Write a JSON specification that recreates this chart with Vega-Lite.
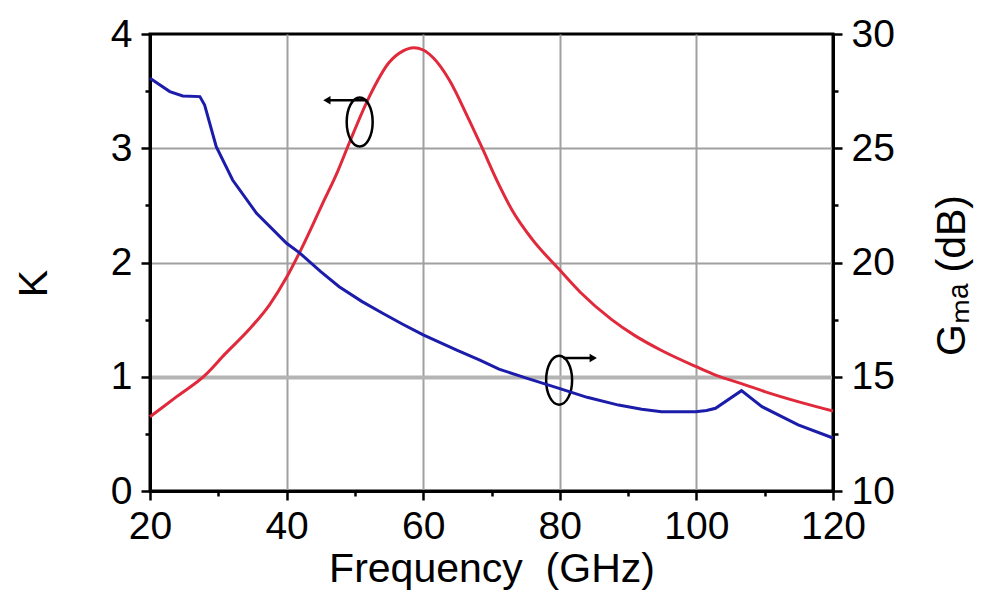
{
  "$schema": "https://vega.github.io/schema/vega-lite/v6.json",
  "width": 683,
  "height": 457,
  "autosize": {"type": "none"},
  "padding": {"left": 150, "top": 34, "right": 155, "bottom": 117},
  "background": "white",
  "config": {
    "font": "Liberation Sans",
    "view": {"stroke": "black", "strokeWidth": 3},
    "axis": {
      "domainColor": "black",
      "domainWidth": 3,
      "tickColor": "black",
      "tickWidth": 2.5,
      "labelColor": "black",
      "labelFontSize": 39,
      "labelFont": "Liberation Sans",
      "titleFont": "Liberation Sans",
      "titleFontSize": 41,
      "titleFontWeight": "normal",
      "titleColor": "black",
      "labelOverlap": false,
      "labelFlush": false
    }
  },
  "datasets": {
    "kdata": [
      {"f": 20, "K": 0.65}, {"f": 24, "K": 0.83}, {"f": 28, "K": 1.01}, {"f": 31, "K": 1.2},
      {"f": 34.6, "K": 1.42}, {"f": 37.5, "K": 1.63}, {"f": 40, "K": 1.87}, {"f": 42, "K": 2.1},
      {"f": 45.3, "K": 2.52}, {"f": 47.5, "K": 2.8}, {"f": 49.2, "K": 3.05}, {"f": 52.1, "K": 3.45},
      {"f": 55, "K": 3.75}, {"f": 57, "K": 3.85}, {"f": 58.6, "K": 3.88}, {"f": 60, "K": 3.86},
      {"f": 61.5, "K": 3.79}, {"f": 63.8, "K": 3.6}, {"f": 66.7, "K": 3.25}, {"f": 68.5, "K": 3.02},
      {"f": 71.1, "K": 2.68}, {"f": 73, "K": 2.46}, {"f": 76, "K": 2.2}, {"f": 79.9, "K": 1.94},
      {"f": 83, "K": 1.74}, {"f": 87.6, "K": 1.5}, {"f": 91, "K": 1.36}, {"f": 94.9, "K": 1.23},
      {"f": 99.9, "K": 1.09}, {"f": 103, "K": 1.01}, {"f": 106.6, "K": 0.94}, {"f": 110, "K": 0.87},
      {"f": 115, "K": 0.78}, {"f": 120, "K": 0.7}
    ],
    "gdata": [
      {"f": 20, "G": 28.06}, {"f": 22.9, "G": 27.48}, {"f": 24.8, "G": 27.29}, {"f": 27.3, "G": 27.26},
      {"f": 28, "G": 26.89}, {"f": 29.7, "G": 25.07}, {"f": 32.1, "G": 23.61}, {"f": 35.6, "G": 22.15},
      {"f": 40, "G": 20.84}, {"f": 41.9, "G": 20.42}, {"f": 45, "G": 19.6}, {"f": 47.7, "G": 18.94},
      {"f": 51, "G": 18.3}, {"f": 54, "G": 17.79}, {"f": 57, "G": 17.3}, {"f": 60, "G": 16.83},
      {"f": 65, "G": 16.15}, {"f": 68.3, "G": 15.73}, {"f": 71.1, "G": 15.33}, {"f": 75, "G": 14.95},
      {"f": 79.9, "G": 14.49}, {"f": 84, "G": 14.1}, {"f": 88.6, "G": 13.76}, {"f": 92, "G": 13.58},
      {"f": 94.9, "G": 13.47}, {"f": 99.9, "G": 13.47}, {"f": 101.5, "G": 13.52}, {"f": 102.8, "G": 13.62},
      {"f": 106.6, "G": 14.39}, {"f": 109.6, "G": 13.69}, {"f": 114.9, "G": 12.89}, {"f": 120, "G": 12.32}
    ],
    "ellipses": [
      {"f": 50.7, "K": 3.23},
      {"f": 79.9, "K": 0.97}
    ],
    "arrows": [
      {"f": 51.8, "f2": 45.9, "K": 3.42},
      {"f": 80.5, "f2": 84.9, "K": 1.164}
    ],
    "heads": [
      {"f": 45.9, "K": 3.42, "dir": "left"},
      {"f": 84.9, "K": 1.164, "dir": "right"}
    ]
  },
  "encoding": {
    "x": {
      "field": "f", "type": "quantitative",
      "scale": {"domain": [20, 120], "nice": false},
      "axis": {
        "title": "Frequency\u00a0\u00a0(GHz)",
        "values": [20, 30, 40, 50, 60, 70, 80, 90, 100, 110, 120],
        "labelExpr": "datum.value % 20 === 0 ? datum.label : ''",
        "tickSize": {"condition": {"test": "datum.value % 20 === 0", "value": 9}, "value": 5},
        "grid": true,
        "gridColor": "#a0a0a0",
        "gridWidth": 2,
        "gridOpacity": {"condition": {"test": "datum.value % 20 === 0 && datum.value > 20 && datum.value < 120", "value": 1}, "value": 0},
        "labelPadding": 7,
        "titlePadding": 3
      }
    }
  },
  "layer": [
    {
      "encoding": {
        "y": {
          "field": "K", "type": "quantitative",
          "scale": {"domain": [0, 4], "nice": false},
          "axis": {
            "title": "K",
            "orient": "left",
            "values": [0, 0.5, 1, 1.5, 2, 2.5, 3, 3.5, 4],
            "labelExpr": "datum.value % 1 === 0 ? format(datum.value, 'd') : ''",
            "tickSize": {"condition": {"test": "datum.value % 1 === 0", "value": 9}, "value": 5},
            "grid": true,
            "gridColor": {"condition": {"test": "datum.value === 1", "value": "#b4b4b4"}, "value": "#a0a0a0"},
            "gridWidth": {"condition": {"test": "datum.value === 1", "value": 4}, "value": 2},
            "gridOpacity": {"condition": {"test": "datum.value % 1 === 0 && datum.value > 0 && datum.value < 4", "value": 1}, "value": 0},
            "labelPadding": 9,
            "titlePadding": 55,
            "titleY": 249
          }
        }
      },
      "layer": [
        {
          "data": {"name": "kdata"},
          "mark": {"type": "line", "color": "#e02a3c", "strokeWidth": 3, "interpolate": "monotone"}
        },
        {
          "data": {"name": "ellipses"},
          "mark": {
            "type": "point",
            "shape": "M0,-1A0.53,1,0,1,1,0,1A0.53,1,0,1,1,0,-1Z",
            "size": 2401,
            "filled": false,
            "stroke": "black",
            "strokeWidth": 2.5,
            "opacity": 1
          }
        },
        {
          "data": {"name": "arrows"},
          "mark": {"type": "rule", "color": "black", "strokeWidth": 2.5},
          "encoding": {
            "x2": {"field": "f2"}
          }
        },
        {
          "data": {"name": "heads"},
          "mark": {"type": "point", "filled": true, "color": "black", "size": 70, "opacity": 1},
          "encoding": {
            "shape": {
              "field": "dir", "type": "nominal",
              "scale": {"domain": ["left", "right"], "range": ["triangle-left", "triangle-right"]},
              "legend": null
            }
          }
        }
      ]
    },
    {
      "data": {"name": "gdata"},
      "mark": {"type": "line", "color": "#1c1caa", "strokeWidth": 3},
      "encoding": {
        "y": {
          "field": "G", "type": "quantitative",
          "scale": {"domain": [10, 30], "nice": false},
          "axis": {
            "title": "Gₘₐ (dB)",
            "orient": "right",
            "values": [10, 12.5, 15, 17.5, 20, 22.5, 25, 27.5, 30],
            "labelExpr": "datum.value % 5 === 0 ? datum.label : ''",
            "tickSize": {"condition": {"test": "datum.value % 5 === 0", "value": 9}, "value": 5},
            "grid": false,
            "labelPadding": 9,
            "titleAngle": -90,
            "titleBaseline": "top",
            "titlePadding": 38,
            "titleY": 241
          }
        }
      }
    }
  ],
  "resolve": {"scale": {"y": "independent"}}
}
